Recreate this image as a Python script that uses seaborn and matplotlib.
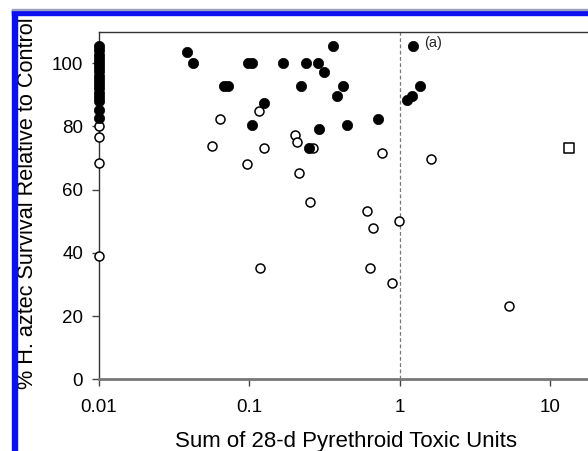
import numpy as np
import pandas as pd
import matplotlib
matplotlib.use("Agg")
import matplotlib.pyplot as plt
from matplotlib.patches import Rectangle
import seaborn as sns

# ===============================
# Datos
# ===============================
# Supervivencia >= umbral (puntos rellenos)
filled_tu = [0.01] * 16 + [
    0.039, 0.0423, 0.068, 0.072, 0.099, 0.105, 0.1675, 0.125, 0.104,
    0.36, 0.238, 0.287, 0.315, 0.22, 0.421, 0.384, 1.224, 1.362, 1.21,
    1.12, 0.723, 0.446, 0.292, 0.25]
filled_surv = [105.3, 104.0, 102.6, 101.3, 100.0, 98.7, 97.4, 96.0, 94.7,
               93.4, 92.0, 90.7, 89.4, 88.0, 85.2, 82.8,
               103.5, 100.1, 92.8, 92.8, 100.1, 100.1, 100.1, 87.5, 80.3,
               105.5, 100.1, 100.1, 97.1, 92.8, 92.8, 89.7, 105.5, 92.8, 89.7,
               88.2, 82.3, 80.3, 79.1, 73.3]

# Puntos abiertos
open_tu = [0.01, 0.01, 0.01, 0.01,
           0.0638, 0.1166, 0.0571, 0.126, 0.0966, 0.265, 0.202, 0.207,
           0.769, 0.216, 1.627, 0.254, 0.608, 0.988, 0.664, 0.118, 0.640,
           0.896, 5.37]
open_surv = [80.0, 76.6, 68.5, 39.0,
             82.3, 84.9, 73.9, 73.1, 68.2, 73.3, 77.3, 75.2,
             71.7, 65.3, 69.6, 56.0, 53.3, 50.2, 47.7, 35.1, 35.3,
             30.3, 23.2]

# Cuadrado
square_tu = [13.3]
square_surv = [73.2]

filled_df = pd.DataFrame({"TU": filled_tu, "Survival": filled_surv})
open_df = pd.DataFrame({"TU": open_tu, "Survival": open_surv})
square_df = pd.DataFrame({"TU": square_tu, "Survival": square_surv})

# ===============================
# Configuracion general
# ===============================
sns.set_style("ticks")
plt.rcParams['font.family'] = ['Liberation Sans', 'DejaVu Sans']

W, H = 588, 451
fig = plt.figure(figsize=(W / 100, H / 100), dpi=100)

# ejes (se salen por la derecha, como en la figura recortada)
left_px, top_px, bottom_px = 98.5, 31.5, 379.3
decade_px = 150.5
ax = fig.add_axes([left_px / W, (H - bottom_px) / H,
                   4 * decade_px / W, (bottom_px - top_px) / H])

ax.axvline(1, color='#777777', linestyle=(0, (3, 2)), linewidth=0.9, zorder=1)

sns.scatterplot(x='TU', y='Survival', data=open_df, ax=ax, marker='o', s=42,
                facecolor='white', edgecolor='black', linewidth=1.1,
                clip_on=False, zorder=3)
sns.scatterplot(x='TU', y='Survival', data=filled_df, ax=ax, marker='o', s=55,
                color='black', edgecolor='black', linewidth=0.5,
                clip_on=False, zorder=4)
sns.scatterplot(x='TU', y='Survival', data=square_df, ax=ax, marker='s', s=60,
                facecolor='white', edgecolor='black', linewidth=1.1,
                clip_on=False, zorder=3)

ax.set_xscale('log')
ax.set_xlim(0.01, 100)
ax.set_ylim(0, 110)
ax.set_xticks([0.01, 0.1, 1, 10])
ax.set_xticklabels(['0.01', '0.1', '1', '10'])
ax.set_yticks([0, 20, 40, 60, 80, 100])
ax.minorticks_off()
ax.tick_params(axis='both', direction='out', length=5, width=1,
               color='#444444', labelsize=13.5, labelcolor='black')
ax.tick_params(axis='x', pad=9)
ax.tick_params(axis='y', pad=6)

ax.text(1.46, 106.5, '(a)', fontsize=10.5, ha='left', va='center')

for side in ['top', 'left']:
    ax.spines[side].set_color('#333333')
    ax.spines[side].set_linewidth(1.0)
ax.spines['bottom'].set_color('#777777')
ax.spines['bottom'].set_linewidth(2.0)
ax.spines['right'].set_visible(False)

ax.set_xlabel('Sum of 28-d Pyrethroid Toxic Units', fontsize=16, color='black')
ax.set_ylabel('% H. aztec Survival Relative to Control', fontsize=15.6, color='black')
ax.xaxis.set_label_coords((346 - left_px) / (4 * decade_px), -0.15)
ax.yaxis.set_label_coords((38 - left_px) / (4 * decade_px), 0.505)

# marco azul de la captura
fig.patches.append(Rectangle((12 / W, 0), 5 / W, (H - 10) / H,
                             transform=fig.transFigure, color='#0a10ee', zorder=10))
fig.patches.append(Rectangle((12 / W, (H - 15) / H), (W - 12) / W, 5 / H,
                             transform=fig.transFigure, color='#0a10ee', zorder=10))
fig.patches.append(Rectangle((12 / W, (H - 10) / H), (W - 12) / W, 1 / H,
                             transform=fig.transFigure, color='#9aa0c0', zorder=10))

fig.savefig('out.png', dpi=100)
plt.close()
